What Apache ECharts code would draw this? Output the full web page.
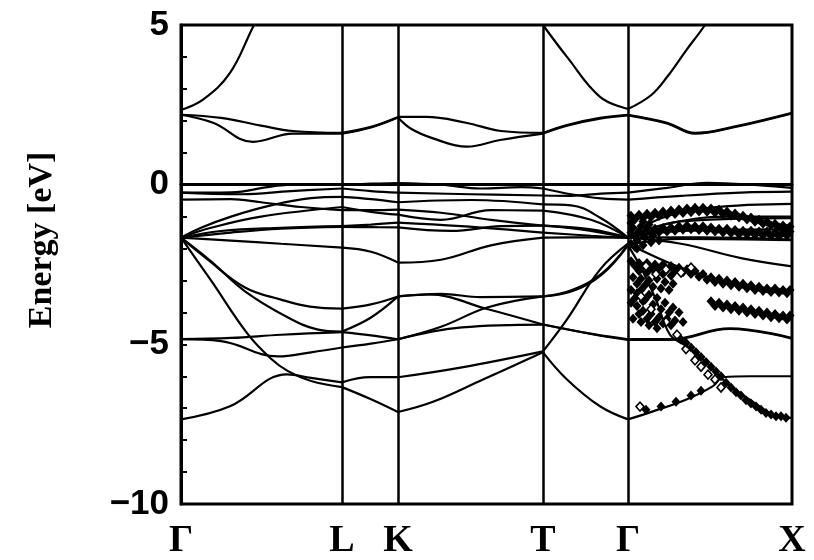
<!DOCTYPE html>
<html>
<head>
<meta charset="utf-8">
<script src="https://cdn.jsdelivr.net/npm/echarts@6/dist/echarts.min.js"></script>
<style>
  html, body { margin: 0; padding: 0; background: #fff; }
  #chart { width: 814px; height: 560px; }
</style>
</head>
<body>
<div id="chart"></div>
<script>
// High-symmetry points along the k-path
const kPoints = [0, 1.61, 2.17, 3.62, 4.47, 6.11];
const kNames = ['Γ', 'L', 'K', 'T', 'Γ', 'X'];
const energyTicks = [-10, -5, 0, 5];

// Conduction bands [k, E (eV)]
const bandC1 = [[0,2.34],[0.22,2.66],[0.49,3.5],[0.72,4.94],[0.8,5.4]];
const bandC2 = [[3.62,5.0],[3.86,4.0],[4.19,2.75],[4.47,2.37],[4.7,2.8],[4.86,3.37],[5.05,4.2],[5.24,5.0],[5.3,5.35]];
const bandC3 = [[0,2.19],[0.4,2.09],[0.8,1.85],[1.12,1.68],[1.61,1.62],[1.9,1.81],[2.17,2.12],[2.45,2.12],[2.85,1.94],[3.2,1.68],[3.62,1.62],[3.86,1.87],[4.19,2.09],[4.47,2.19],[4.86,1.94],[5.14,1.62],[5.52,1.81],[6.11,2.25]];
const bandC4 = [[0,2.19],[0.32,1.94],[0.72,1.34],[1.12,1.6],[1.61,1.6],[1.9,1.79],[2.17,2.1],[2.3,1.75],[2.52,1.45],[2.86,1.19],[3.19,1.4],[3.62,1.6],[3.86,1.85],[4.19,2.07],[4.47,2.17],[4.86,1.92],[5.14,1.6],[5.52,1.79],[6.11,2.23]];

// Upper valence bands
const bandV1 = [[0,-0.25],[0.5,-0.24],[0.9,-0.06],[1.2,0.02],[1.61,0.0],[1.9,0.03],[2.17,0.05],[2.6,0.0],[3.0,-0.12],[3.4,-0.08],[3.62,-0.12],[3.9,-0.3],[4.2,-0.43],[4.47,-0.47],[5.0,-0.35],[5.6,-0.25],[6.11,-0.22]];
const bandV2 = [[0,-0.25],[0.6,-0.3],[1.1,-0.2],[1.61,-0.12],[1.9,-0.2],[2.17,-0.25],[2.9,-0.3],[3.62,-0.34],[3.9,-0.35],[4.2,-0.28],[4.47,-0.25],[4.86,-0.1],[5.26,0.06],[5.8,-0.02],[6.11,-0.1]];
const bandV3 = [[0,-0.47],[0.5,-0.45],[0.8,-0.55],[1.2,-0.7],[1.61,-0.8],[1.9,-0.8],[2.17,-0.78],[2.6,-0.88],[3.1,-1.1],[3.62,-1.28],[4.0,-1.4],[4.47,-1.66],[4.9,-1.2],[5.5,-1.0],[6.11,-1.0]];
const bandV4 = [[0,-1.66],[0.2,-1.35],[0.5,-1.0],[0.9,-0.65],[1.3,-0.42],[1.61,-0.38],[1.9,-0.45],[2.17,-0.55],[2.9,-0.48],[3.62,-0.62],[3.9,-0.65],[4.2,-1.05],[4.47,-1.66],[4.8,-1.05],[5.3,-0.72],[6.11,-0.6]];
const bandV5 = [[0,-1.66],[0.3,-1.35],[0.8,-1.0],[1.61,-0.7],[1.9,-0.85],[2.17,-0.94],[2.6,-1.1],[3.1,-0.8],[3.62,-0.81],[4.1,-1.1],[4.47,-1.66],[5.0,-1.45],[6.11,-1.4]];
const bandV6 = [[0,-1.66],[0.4,-1.45],[1.0,-1.35],[1.61,-1.3],[1.9,-1.25],[2.17,-1.19],[2.8,-1.3],[3.62,-1.5],[4.1,-1.6],[4.47,-1.66],[5.2,-1.65],[6.11,-1.72]];
const bandV7 = [[0,-1.66],[0.5,-1.75],[1.0,-1.85],[1.61,-1.97],[1.9,-2.1],[2.17,-2.44],[2.6,-2.35],[3.1,-1.9],[3.62,-1.66],[4.1,-1.65],[4.47,-1.66],[5.0,-1.85],[5.6,-2.3],[6.11,-2.56]];
const bandV8 = [[0,-1.66],[0.5,-1.5],[1.0,-1.38],[1.61,-1.32],[1.9,-1.33],[2.17,-1.34],[2.7,-1.45],[3.2,-1.3],[3.62,-1.28],[4.1,-1.4],[4.47,-1.66],[5.0,-1.15],[6.11,-1.05]];

// Lower valence bands
const bandL1 = [[0,-1.66],[0.3,-3.0],[0.67,-4.69],[0.9,-5.45],[1.07,-5.84],[1.3,-6.15],[1.61,-6.34],[1.9,-6.72],[2.17,-7.12],[2.52,-6.8],[3.02,-6.1],[3.62,-5.25],[3.86,-6.1],[4.19,-6.94],[4.47,-7.35],[4.72,-7.1],[5.06,-6.72],[5.32,-6.31],[5.42,-6.03],[5.7,-6.0],[6.11,-6.0]];
const bandL2 = [[0,-1.66],[0.25,-2.3],[0.64,-3.22],[1.0,-3.6],[1.29,-3.82],[1.61,-3.88],[1.9,-3.75],[2.17,-3.5],[2.6,-3.42],[3.0,-3.52],[3.62,-3.5],[3.91,-3.34],[4.21,-2.81],[4.47,-1.9],[4.6,-2.6],[4.75,-3.6],[4.89,-4.7],[5.05,-5.05],[5.22,-5.47],[5.49,-6.3],[5.72,-6.8],[5.96,-7.25],[6.11,-7.3]];
const bandL3 = [[0,-1.66],[0.3,-2.4],[0.64,-3.34],[1.07,-4.16],[1.36,-4.53],[1.61,-4.6],[1.9,-4.16],[2.17,-3.5],[2.47,-3.44],[3.07,-3.9],[3.62,-4.38],[4.14,-4.69],[4.47,-4.84],[4.89,-4.84],[5.49,-4.5],[6.11,-4.8]];
const bandL4 = [[0,-4.84],[0.5,-4.8],[1.0,-4.7],[1.61,-4.62],[1.9,-4.72],[2.17,-4.84],[2.6,-4.45],[3.07,-3.84],[3.62,-3.5],[3.91,-3.3],[4.21,-2.78],[4.47,-1.88],[5.0,-1.7],[6.11,-1.74]];
const bandL5 = [[0,-4.84],[0.4,-4.9],[0.97,-5.38],[1.3,-5.25],[1.61,-5.1],[1.9,-4.98],[2.17,-4.84],[2.81,-4.47],[3.62,-4.38],[4.14,-4.7],[4.47,-4.86],[4.89,-4.86],[5.49,-4.52],[6.11,-4.82]];
const bandL6 = [[0,-7.35],[0.49,-6.94],[1.06,-5.94],[1.3,-6.05],[1.61,-6.19],[1.89,-6.03],[2.17,-6.03],[2.81,-5.72],[3.62,-5.22],[3.86,-4.22],[4.19,-2.66],[4.47,-1.85],[5.0,-2.6],[5.6,-3.2],[6.11,-3.4]];

// Photoemission data along Γ–X
const expFilled = [
  // upper branch
  [4.50,-0.97],[4.58,-0.94],[4.66,-0.91],[4.74,-0.88],[4.82,-0.84],[4.90,-0.81],[4.98,-0.78],[5.06,-0.75],[5.14,-0.72],[5.22,-0.72],[5.30,-0.75],[5.38,-0.78],[5.46,-0.84],[5.54,-0.90],[5.62,-0.97],[5.70,-1.03],[5.78,-1.10],[5.86,-1.16],[5.94,-1.22],[6.02,-1.28],[6.09,-1.31],
  [4.54,-1.08],[4.62,-1.05],[4.70,-1.02],[4.78,-0.98],[4.86,-0.95],[4.94,-0.92],[5.02,-0.89],[5.10,-0.86],[5.18,-0.84],[5.26,-0.85],[5.34,-0.88],[5.42,-0.92],[5.50,-0.97],[5.58,-1.03],[5.66,-1.09],[5.74,-1.16],[5.82,-1.22],[5.90,-1.28],[5.98,-1.33],[6.06,-1.37],
  // second branch
  [4.50,-1.50],[4.58,-1.45],[4.66,-1.40],[4.74,-1.38],[4.82,-1.36],[4.90,-1.34],[4.98,-1.30],[5.06,-1.28],[5.14,-1.30],[5.22,-1.30],[5.30,-1.34],[5.38,-1.38],[5.46,-1.38],[5.54,-1.42],[5.62,-1.44],[5.70,-1.44],[5.78,-1.47],[5.86,-1.47],[5.94,-1.50],[6.02,-1.50],[6.09,-1.47],
  [4.54,-1.62],[4.62,-1.56],[4.70,-1.52],[4.78,-1.49],[4.86,-1.47],[4.94,-1.44],[5.02,-1.41],[5.10,-1.40],[5.18,-1.42],[5.26,-1.44],[5.34,-1.47],[5.42,-1.50],[5.50,-1.52],[5.58,-1.55],[5.66,-1.56],[5.74,-1.58],[5.82,-1.59],[5.90,-1.61],[5.98,-1.62],[6.06,-1.60],
  // block next to Γ
  [4.50,-1.20],[4.56,-1.75],[4.62,-1.15],[4.50,-1.85],[4.64,-1.65],[4.72,-1.60],[4.56,-2.00],
  [4.52,-1.35],[4.60,-1.30],[4.68,-1.25],[4.54,-1.95],[4.62,-1.90],[4.70,-1.80],[4.78,-1.75],
  // -2.4 to -3.4 branch
  [4.50,-2.40],[4.58,-2.45],[4.66,-2.45],[4.74,-2.50],[4.82,-2.50],[4.90,-2.55],[4.98,-2.60],[5.06,-2.65],[5.14,-2.70],[5.22,-2.80],[5.30,-2.90],[5.38,-2.95],[5.46,-3.00],[5.54,-3.05],[5.62,-3.10],[5.70,-3.15],[5.78,-3.20],[5.86,-3.25],[5.94,-3.25],[6.02,-3.30],[6.09,-3.30],
  [4.54,-2.55],[4.62,-2.58],[4.70,-2.60],[4.78,-2.62],[4.86,-2.66],[4.94,-2.70],[5.02,-2.74],[5.10,-2.80],[5.18,-2.88],[5.26,-2.98],[5.34,-3.05],[5.42,-3.10],[5.50,-3.15],[5.58,-3.20],[5.66,-3.24],[5.74,-3.30],[5.82,-3.33],[5.90,-3.36],[5.98,-3.38],[6.06,-3.40],
  [4.52,-2.90],[4.60,-2.95],[4.68,-3.00],[4.76,-2.95],[4.84,-3.05],[4.92,-3.10],
  [4.58,-2.70],[4.66,-2.75],[4.74,-2.72],[4.82,-2.80],[4.90,-2.85],[4.56,-3.10],[4.64,-3.15],[4.72,-3.20],[4.80,-3.25],[4.88,-3.30],
  // -3.3 to -4.5 block
  [4.50,-3.70],[4.56,-3.80],[4.62,-3.95],[4.70,-4.05],[4.78,-4.15],[4.86,-4.20],[4.94,-4.25],[5.02,-4.30],[4.52,-4.20],[4.60,-4.30],[4.68,-4.40],[4.76,-4.50],[4.50,-3.30],[4.56,-3.40],
  [4.54,-3.55],[4.62,-3.65],[4.66,-4.20],[4.74,-4.30],[4.82,-4.35],[4.90,-4.40],[4.58,-4.05],[4.64,-3.60],[4.72,-3.75],[4.80,-3.90],[4.88,-4.00],
  [4.60,-3.30],[4.68,-3.45],[4.76,-3.55],[4.84,-3.70],[4.92,-3.85],[4.98,-4.00],
  // -3.7 to -4.2 branch toward X
  [5.30,-3.65],[5.38,-3.70],[5.46,-3.75],[5.54,-3.80],[5.62,-3.85],[5.70,-3.90],[5.78,-3.95],[5.86,-4.00],[5.94,-4.05],[6.02,-4.10],[6.09,-4.10],
  [5.34,-3.80],[5.42,-3.85],[5.50,-3.90],[5.58,-3.95],[5.66,-4.00],[5.74,-4.05],[5.82,-4.10],[5.90,-4.15],[5.98,-4.18],[6.06,-4.22],
  // steep branch
  [5.00,-4.85],[5.10,-5.10],[5.20,-5.40],[5.30,-5.70],[5.40,-6.00],[5.50,-6.35],[5.60,-6.60],[5.70,-6.85],[5.80,-7.05],[5.90,-7.20],[6.00,-7.25],
  [5.05,-4.95],[5.15,-5.25],[5.25,-5.55],[5.35,-5.85],[5.45,-6.20],[5.55,-6.50],[5.65,-6.75],[5.75,-6.95],[5.85,-7.15],[5.95,-7.25],[6.05,-7.30],
  // lowest branch
  [4.65,-7.05],[4.80,-6.95],[4.95,-6.80],[5.10,-6.60],[5.20,-6.45]
];
const expOpen = [
  [4.60,-3.50],[4.70,-3.90],[4.85,-4.30],[4.96,-4.70],[5.05,-5.15],[5.14,-5.50],[5.20,-5.70],[5.27,-5.95],[5.34,-6.10],[5.40,-6.35],[4.59,-6.95],
  [4.75,-2.80],[4.85,-2.65],[5.00,-2.75],[5.10,-2.60],[4.65,-2.55]
];

const bands = [bandC1, bandC2, bandC3, bandC4, bandV1, bandV2, bandV3, bandV4, bandV5, bandV6, bandV7, bandV8,
               bandL1, bandL2, bandL3, bandL4, bandL5, bandL6];

// Split each band at the interior high-symmetry points so kinks stay sharp
function splitAtSymmetryPoints(band) {
  const inner = kPoints.slice(1, -1);
  const pieces = [];
  let cur = [];
  band.forEach(function (p, i) {
    cur.push(p);
    if (i > 0 && i < band.length - 1 && inner.some(function (k) { return Math.abs(k - p[0]) < 1e-9; })) {
      pieces.push(cur);
      cur = [p];
    }
  });
  if (cur.length > 1) pieces.push(cur);
  return pieces;
}

const series = [];
bands.forEach(function (band) {
  splitAtSymmetryPoints(band).forEach(function (seg) {
    series.push({
      type: 'line', data: seg, smooth: 0.4, showSymbol: false, silent: true,
      clip: true, animation: false,
      lineStyle: { color: '#000', width: 2.2 }
    });
  });
});

// Vertical lines at the symmetry points
series.push({
  type: 'line', data: [], silent: true, animation: false,
  markLine: {
    silent: true, symbol: ['none', 'none'], animation: false,
    label: { show: false },
    lineStyle: { color: '#000', width: 2.5, type: 'solid' },
    data: kPoints.slice(1, -1).map(function (k) { return { xAxis: k }; })
  }
});

series.push({
  type: 'scatter', data: expFilled, symbol: 'diamond', symbolSize: [9, 10],
  silent: true, animation: false, itemStyle: { color: '#000', opacity: 1 }
});
series.push({
  type: 'scatter', data: expOpen, symbol: 'diamond', symbolSize: [8, 9],
  silent: true, animation: false,
  itemStyle: { color: '#fff', borderColor: '#000', borderWidth: 1.6, opacity: 1 }
});

const chart = echarts.init(document.getElementById('chart'), null, { renderer: 'canvas' });
chart.setOption({
  backgroundColor: '#fff',
  animation: false,
  grid: {
    left: 181, right: 22, top: 25, bottom: 55,
    show: true, borderColor: '#000', borderWidth: 3, backgroundColor: 'transparent'
  },
  xAxis: {
    type: 'value', min: kPoints[0], max: kPoints[kPoints.length - 1],
    splitLine: { show: false },
    axisLine: { show: true, lineStyle: { color: '#000', width: 3 } },
    axisTick: { show: false },
    axisLabel: {
      customValues: kPoints,
      showMinLabel: true, showMaxLabel: true,
      margin: 18,
      color: '#000', fontFamily: 'Liberation Serif', fontWeight: 'bold', fontSize: 38,
      formatter: function (v) {
        let idx = 0, best = Infinity;
        kPoints.forEach(function (k, i) { const d = Math.abs(k - v); if (d < best) { best = d; idx = i; } });
        return kNames[idx];
      }
    }
  },
  yAxis: {
    type: 'value', min: energyTicks[0], max: energyTicks[energyTicks.length - 1], interval: 5,
    splitLine: { show: false },
    axisLine: { show: true, lineStyle: { color: '#000', width: 3 } },
    axisTick: { show: true, inside: true, length: 6, lineStyle: { color: '#000', width: 2 } },
    minorTick: { show: true, splitNumber: 5, length: 6, lineStyle: { color: '#000', width: 2 } },
    axisLabel: {
      margin: 12, padding: [6, 0, 0, 0], color: '#000',
      fontFamily: 'Liberation Sans', fontWeight: 'bold', fontSize: 35,
      formatter: function (v) { return String(v).replace('-', '\u2212'); }
    }
  },
  graphic: [{
    type: 'text', x: 42, y: 240, rotation: Math.PI / 2,
    style: {
      text: 'Energy [eV]', fill: '#000',
      font: 'bold 34px "Liberation Serif"',
      textAlign: 'center', textVerticalAlign: 'middle'
    }
  }],
  series: series
});
</script>
</body>
</html>
